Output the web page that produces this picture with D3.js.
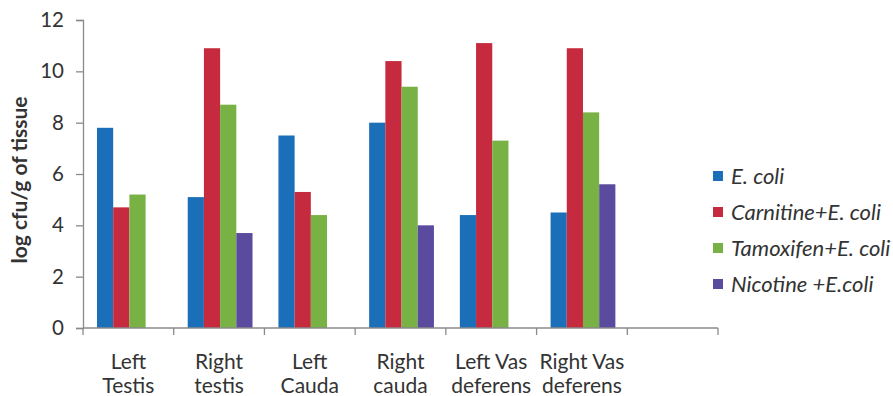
<!DOCTYPE html>
<html>
<head>
<meta charset="utf-8">
<script src="https://cdn.jsdelivr.net/npm/d3@7"></script>
<style>
  html, body { margin: 0; padding: 0; background: #fff; }
  svg { display: block; }
  text { font-family: Lato, "Open Sans", sans-serif; fill: #333; }
</style>
</head>
<body>
<svg id="chart" width="893" height="396"></svg>
<script>
// Tissue sites (the last slot on the axis is left empty)
const categories = [
  ["Left", "Testis"],
  ["Right", "testis"],
  ["Left", "Cauda"],
  ["Right", "cauda"],
  ["Left Vas", "deferens"],
  ["Right Vas", "deferens"],
  ["", ""]
];
const seriesNames = ["E. coli", "Carnitine+E. coli", "Tamoxifen+E. coli", "Nicotine +E.coli"];
const seriesColors = ["#1b6fb9", "#c52a3e", "#78b144", "#5b4b9f"];

// log cfu/g of tissue per site (null = not measured)
const ecoli      = [7.8, 5.1, 7.5, 8.0, 4.4, 4.5, null];
const carnitine  = [4.7, 10.9, 5.3, 10.4, 11.1, 10.9, null];
const tamoxifen  = [5.2, 8.7, 4.4, 9.4, 7.3, 8.4, null];
const nicotine   = [null, 3.7, null, 4.0, null, 5.6, null];
const seriesValues = [ecoli, carnitine, tamoxifen, nicotine];

const yTicks = [0, 2, 4, 6, 8, 10, 12];

const svg = d3.select("#chart");
const margin = { left: 83, top: 20, right: 175, bottom: 68 };
const width = 893 - margin.left - margin.right;   // 635
const height = 396 - margin.top - margin.bottom;  // 308

const g = svg.append("g").attr("transform", `translate(${margin.left},${margin.top})`);

const x = d3.scaleBand().domain(d3.range(categories.length)).range([0, width]).paddingInner(0).paddingOuter(0);
const y = d3.scaleLinear().domain([0, 12]).range([height, 0]);
const bandInner = x.bandwidth();
const barW = 16.2;
const groupOffset = 14;

// bars
seriesValues.forEach((vals, si) => {
  g.append("g").selectAll("rect")
    .data(vals.map((v, i) => ({ v, i })).filter(d => d.v !== null))
    .join("rect")
    .attr("x", d => x(d.i) + groupOffset + si * barW)
    .attr("width", barW)
    .attr("y", d => y(d.v))
    .attr("height", d => y(0) - y(d.v))
    .attr("fill", seriesColors[si]);
});

// y axis
const yAxis = g.append("g")
  .call(d3.axisLeft(y).tickValues(yTicks).tickSize(7).tickPadding(12));
yAxis.select(".domain").attr("stroke", "#8a8a8a").attr("stroke-width", 1.3);
yAxis.selectAll(".tick line").attr("stroke", "#8a8a8a").attr("stroke-width", 1.3);
yAxis.selectAll(".tick text").attr("font-size", 20.5).attr("fill", "#333")
  .style("font-family", "Lato, sans-serif");

// x axis with tick marks at band boundaries
const xAxis = g.append("g").attr("transform", `translate(0,${height})`);
xAxis.append("line").attr("x1", 0).attr("x2", width).attr("y1", 0).attr("y2", 0)
  .attr("stroke", "#8a8a8a").attr("stroke-width", 1.3);
const bounds = d3.range(categories.length + 1).map(i => i === categories.length ? width : x(i));
xAxis.selectAll("line.tk").data(bounds).join("line").attr("class", "tk")
  .attr("x1", d => d).attr("x2", d => d).attr("y1", 0).attr("y2", 7)
  .attr("stroke", "#8a8a8a").attr("stroke-width", 1.3);

const lbl = xAxis.selectAll("text.cat").data(categories).join("text").attr("class", "cat")
  .attr("text-anchor", "middle").attr("font-size", 21)
  .attr("transform", (d, i) => `translate(${x(i) + bandInner / 2},0)`);
lbl.append("tspan").attr("x", 0).attr("y", 41).text(d => d[0]);
lbl.append("tspan").attr("x", 0).attr("y", 65).text(d => d[1]);

// y axis title
svg.append("text")
  .attr("transform", `translate(27,${margin.top + height / 2 + 6}) rotate(-90)`)
  .attr("text-anchor", "middle")
  .attr("font-size", 21).attr("font-weight", "bold").attr("fill", "#111")
  .text("log cfu/g of tissue");

// legend
const legend = svg.append("g").attr("transform", "translate(713,176)");
seriesNames.forEach((name, i) => {
  const row = legend.append("g").attr("transform", `translate(0,${i * 36})`);
  row.append("rect").attr("x", 0).attr("y", -5).attr("width", 10).attr("height", 10).attr("fill", seriesColors[i]);
  row.append("text").attr("x", 18).attr("y", 7.5).attr("font-size", 22).attr("font-style", "italic")
    .attr("fill", "#333").text(name);
});
</script>
</body>
</html>
